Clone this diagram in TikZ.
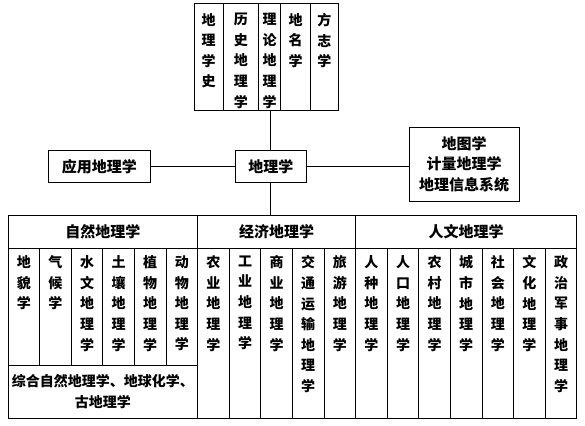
\documentclass[tikz,border=0pt]{standalone}
\usepackage{fontspec}
\setmainfont{Noto Sans CJK SC}
\usepackage{tikz}
\usetikzlibrary{positioning}
\newcommand{\labelfont}{\fontsize{15}{20.5}\selectfont\bfseries}
\newcommand{\stackfont}{\fontsize{14}{20.6}\selectfont\bfseries}

\begin{document}
\begin{tikzpicture}[
    line width=0.8pt,
    box/.style={rectangle, draw, font=\labelfont, align=center, inner sep=0pt, outer sep=0pt, minimum height=31.6pt},
    head/.style={rectangle, draw, font=\labelfont, inner sep=0pt, outer sep=0pt, minimum height=32.8pt},
    topcol/.style={rectangle, draw, inner sep=0pt, outer sep=0pt, minimum height=106.7pt},
    cell/.style={rectangle, draw, inner sep=0pt, outer sep=0pt, minimum width=31.6pt, minimum height=116.7pt},
    tallcell/.style={cell, minimum height=169.7pt},
    stack/.style={font=\stackfont, align=center, inner sep=0pt},
    link/.style={draw, line width=0.8pt}
]
\useasboundingbox (0,0) rectangle (585pt,425pt);

% Sub-disciplines on top
\node[topcol, minimum width=29.3pt, anchor=north west] (shi) at (194pt,421.7pt) {};
\node[topcol, minimum width=35pt, right=0pt of shi] (lishi) {};
\node[topcol, minimum width=22.4pt, right=0pt of lishi] (lilun) {};
\node[topcol, minimum width=30pt, right=0pt of lilun] (diming) {};
\node[topcol, minimum width=27.3pt, right=0pt of diming] (fangzhi) {};

\node[stack, below=9.5pt of shi.north] (shi_t) {地\\理\\学\\史};
\node[stack, below=9.5pt of lishi.north] (lishi_t) {历\\史\\地\\理\\学};
\node[stack, below=9.5pt of lilun.north] (lilun_t) {理\\论\\地\\理\\学};
\node[stack, below=9.5pt of diming.north] (diming_t) {地\\名\\学};
\node[stack, below=9.5pt of fangzhi.north] (fangzhi_t) {方\\志\\学};

% Middle row
\node[box, minimum width=71.7pt] (geo) at (270.8pt,258.5pt) {地理学};
\node[box, minimum width=102.4pt, left=84.3pt of geo] (yingyong) {应用地理学};
\node[box, minimum width=109.7pt, minimum height=73.7pt, right=102.6pt of geo, yshift=2.3pt] (tools) {地图学\\计量地理学\\地理信息系统};

% Three branches
\node[head, minimum width=189.6pt, anchor=north west] (ziran) at (8pt,209.5pt) {自然地理学};
\node[head, minimum width=158pt, right=0pt of ziran] (jingji) {经济地理学};
\node[head, minimum width=221.2pt, right=0pt of jingji] (renwen) {人文地理学};

% Physical geography
\node[cell, anchor=north west] (dimao) at (ziran.south west) {};
\node[cell, right=0pt of dimao] (qihou) {};
\node[cell, right=0pt of qihou] (shuiwen) {};
\node[cell, right=0pt of shuiwen] (turang) {};
\node[cell, right=0pt of turang] (zhiwu) {};
\node[cell, right=0pt of zhiwu] (dongwu) {};
\node[rectangle, draw, font=\stackfont, align=center, inner sep=0pt, outer sep=0pt,
      minimum width=189.6pt, minimum height=53pt, anchor=north west] (zonghe) at (dimao.south west)
      {综合自然地理学、地球化学、\\古地理学};

\node[stack, below=7pt of dimao.north] (dimao_t) {地\\貌\\学};
\node[stack, below=7pt of qihou.north] (qihou_t) {气\\候\\学};
\node[stack, below=7pt of shuiwen.north] (shuiwen_t) {水\\文\\地\\理\\学};
\node[stack, below=7pt of turang.north] (turang_t) {土\\壤\\地\\理\\学};
\node[stack, below=7pt of zhiwu.north] (zhiwu_t) {植\\物\\地\\理\\学};
\node[stack, below=7pt of dongwu.north] (dongwu_t) {动\\物\\地\\理\\学};

% Economic geography
\node[tallcell, anchor=north west] (nongye) at (jingji.south west) {};
\node[tallcell, right=0pt of nongye] (gongye) {};
\node[tallcell, right=0pt of gongye] (shangye) {};
\node[tallcell, right=0pt of shangye] (jiaotong) {};
\node[tallcell, right=0pt of jiaotong] (lvyou) {};

\node[stack, below=7pt of nongye.north] (nongye_t) {农\\业\\地\\理\\学};
\node[stack, below=7pt of gongye.north] (gongye_t) {工\\业\\地\\理\\学};
\node[stack, below=7pt of shangye.north] (shangye_t) {商\\业\\地\\理\\学};
\node[stack, below=7pt of jiaotong.north] (jiaotong_t) {交\\通\\运\\输\\地\\理\\学};
\node[stack, below=7pt of lvyou.north] (lvyou_t) {旅\\游\\地\\理\\学};

% Human geography
\node[tallcell, anchor=north west] (renzhong) at (renwen.south west) {};
\node[tallcell, right=0pt of renzhong] (renkou) {};
\node[tallcell, right=0pt of renkou] (nongcun) {};
\node[tallcell, right=0pt of nongcun] (chengshi) {};
\node[tallcell, right=0pt of chengshi] (shehui) {};
\node[tallcell, right=0pt of shehui] (wenhua) {};
\node[tallcell, right=0pt of wenhua] (zhengzhi) {};

\node[stack, below=7pt of renzhong.north] (renzhong_t) {人\\种\\地\\理\\学};
\node[stack, below=7pt of renkou.north] (renkou_t) {人\\口\\地\\理\\学};
\node[stack, below=7pt of nongcun.north] (nongcun_t) {农\\村\\地\\理\\学};
\node[stack, below=7pt of chengshi.north] (chengshi_t) {城\\市\\地\\理\\学};
\node[stack, below=7pt of shehui.north] (shehui_t) {社\\会\\地\\理\\学};
\node[stack, below=7pt of wenhua.north] (wenhua_t) {文\\化\\地\\理\\学};
\node[stack, below=7pt of zhengzhi.north] (zhengzhi_t) {政\\治\\军\\事\\地\\理\\学};

% Connectors
\draw[link] (geo.north) -- (geo.north |- lilun.south);
\draw[link] (yingyong) -- (geo);
\draw[link] (geo.east) -- (geo.east -| tools.west);
\draw[link] (geo.south) -- (geo.south |- jingji.north);

\end{tikzpicture}
\end{document}
